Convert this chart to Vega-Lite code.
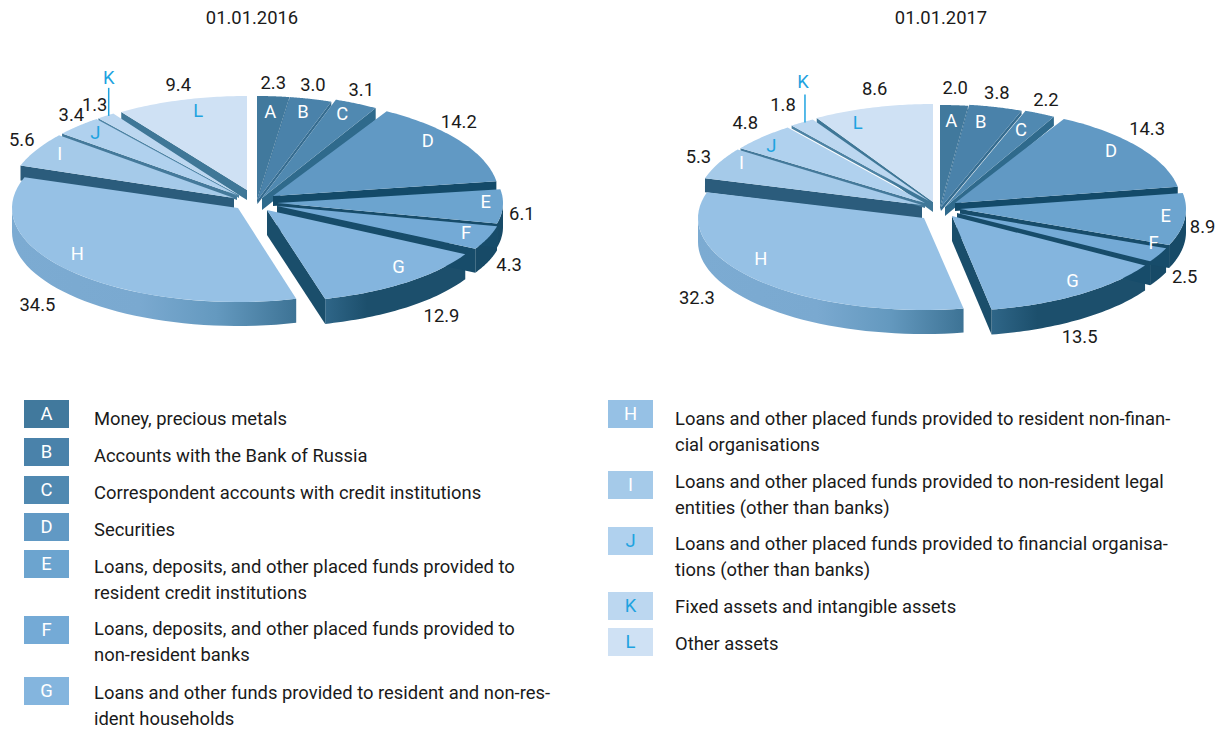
{
  "$schema": "https://vega.github.io/schema/vega-lite/v6.json",
  "autosize": {"type": "fit", "contains": "padding"},
  "width": 1227,
  "height": 729,
  "padding": 0,
  "background": "#ffffff",
  "config": {"view": {"stroke": null}, "text": {"font": "Roboto", "fontSize": 18.4, "color": "#1a1a1a"}},
  "datasets": {
    "slices": [
      {"chart": "2016", "key": "A", "value": 2.3}, {"chart": "2016", "key": "B", "value": 3.0}, {"chart": "2016", "key": "C", "value": 3.1},
      {"chart": "2016", "key": "D", "value": 14.2}, {"chart": "2016", "key": "E", "value": 6.1}, {"chart": "2016", "key": "F", "value": 4.3},
      {"chart": "2016", "key": "G", "value": 12.9}, {"chart": "2016", "key": "H", "value": 34.5}, {"chart": "2016", "key": "I", "value": 5.6},
      {"chart": "2016", "key": "J", "value": 3.4}, {"chart": "2016", "key": "K", "value": 1.3}, {"chart": "2016", "key": "L", "value": 9.4},
      {"chart": "2017", "key": "A", "value": 2.0}, {"chart": "2017", "key": "B", "value": 3.8}, {"chart": "2017", "key": "C", "value": 2.2},
      {"chart": "2017", "key": "D", "value": 14.3}, {"chart": "2017", "key": "E", "value": 8.9}, {"chart": "2017", "key": "F", "value": 2.5},
      {"chart": "2017", "key": "G", "value": 13.5}, {"chart": "2017", "key": "H", "value": 32.3}, {"chart": "2017", "key": "I", "value": 5.3},
      {"chart": "2017", "key": "J", "value": 4.8}, {"chart": "2017", "key": "K", "value": 1.8}, {"chart": "2017", "key": "L", "value": 8.6}
    ],
    "headings": [
      {"chart": "2016", "heading": "01.01.2016"},
      {"chart": "2017", "heading": "01.01.2017"}
    ],
    "categories": [
      {"key": "A", "label": "Money, precious metals"},
      {"key": "B", "label": "Accounts with the Bank of Russia"},
      {"key": "C", "label": "Correspondent accounts with credit institutions"},
      {"key": "D", "label": "Securities"},
      {"key": "E", "label": "Loans, deposits, and other placed funds provided to\nresident credit institutions"},
      {"key": "F", "label": "Loans, deposits, and other placed funds provided to\nnon-resident banks"},
      {"key": "G", "label": "Loans and other funds provided to resident and non-res-\nident households"},
      {"key": "H", "label": "Loans and other placed funds provided to resident non-finan-\ncial organisations"},
      {"key": "I", "label": "Loans and other placed funds provided to non-resident legal\nentities (other than banks)"},
      {"key": "J", "label": "Loans and other placed funds provided to financial organisa-\ntions (other than banks)"},
      {"key": "K", "label": "Fixed assets and intangible assets"},
      {"key": "L", "label": "Other assets"}
    ]
  },
  "data": {"name": "slices"},
  "transform": [
    {"window": [{"op": "sum", "field": "value", "as": "cum"}], "groupby": ["chart"], "sort": [{"field": "key"}]},
    {"joinaggregate": [{"op": "sum", "field": "value", "as": "total"}], "groupby": ["chart"]},
    {"calculate": "datum.cum / datum.total * 2 * PI", "as": "a1"},
    {"calculate": "(datum.cum - datum.value) / datum.total * 2 * PI", "as": "a0"},
    {"calculate": "(datum.a0 + datum.a1) / 2", "as": "mid"},
    {"calculate": "{'2016':{A:[257,200,104,4],B:[257.5,200,104,4],C:[262,198,104,12],D:[273,196,98,10],E:[277,203,90,24],F:[277,206,89,24],G:[267,210,92,25],H:[238,208,94,24],I:[234,198,99,15],J:[237,195,97,5],K:[239,195,98,3],L:[247,190,94,10]},'2017':{A:[940,207,102,4],B:[941,207,103,4],C:[945,207,103,9],D:[955,203,96,8],E:[960,209,95,23],F:[957,213,93,24],G:[952,216,95,25],H:[924,218,92,24],I:[922,205,96,14],J:[925,203,95,5],K:[929,201,95,3],L:[933,202,98,10]}}[datum.chart][datum.key]", "as": "geo"},
    {"calculate": "datum.geo[0]", "as": "cx"},
    {"calculate": "datum.geo[1]", "as": "cy"},
    {"calculate": "datum.geo[2]", "as": "ry"},
    {"calculate": "datum.geo[3]", "as": "depth"},
    {"calculate": "datum.cx + 226 * sin(datum.mid)", "as": "rimX"},
    {"calculate": "datum.cy - datum.ry * cos(datum.mid)", "as": "rimY"}
  ],
  "encoding": {
    "x": {"field": "px", "type": "quantitative", "axis": null, "scale": {"domain": [0, 1227], "nice": false, "zero": false}},
    "y": {"field": "py", "type": "quantitative", "axis": null, "scale": {"domain": [729, 0], "nice": false, "zero": false}}
  },
  "layer": [
    {
      "transform": [
        {"filter": "datum.a1 > PI / 2 && datum.a0 < 3 * PI / 2"},
        {"calculate": "max(datum.a0, PI / 2)", "as": "b0"},
        {"calculate": "min(datum.a1, 3 * PI / 2)", "as": "b1"},
        {"calculate": "sequence(0, 82)", "as": "steps"},
        {"flatten": ["steps"], "as": ["i"]},
        {"calculate": "datum.i <= 40 ? datum.i : 81 - datum.i", "as": "j"},
        {"calculate": "datum.b0 + (datum.b1 - datum.b0) * datum.j / 40", "as": "t"},
        {"calculate": "datum.cx + 226 * sin(datum.t)", "as": "px"},
        {"calculate": "datum.cy - datum.ry * cos(datum.t) + (datum.i <= 40 ? 0 : datum.depth)", "as": "py"}
      ],
      "encoding": {
        "detail": [{"field": "chart"}, {"field": "key"}],
        "order": {"field": "i", "type": "quantitative"}
      },
      "layer": [
        {
          "transform": [{"filter": "datum.key == 'E' || datum.key == 'F'"}],
          "mark": {"type": "line", "fill": "#174a67", "stroke": "transparent", "strokeWidth": 0}
        },
        {
          "transform": [{"filter": "datum.key == 'G'"}],
          "mark": {"type": "line", "stroke": "transparent", "strokeWidth": 0, "fill": {"gradient": "linear", "x1": 0, "y1": 0, "x2": 1, "y2": 0, "stops": [{"offset": 0, "color": "#2f6688"}, {"offset": 0.3, "color": "#1c4f6c"}, {"offset": 1, "color": "#1c4f6c"}]}}
        },
        {
          "transform": [{"filter": "datum.key == 'H'"}],
          "mark": {"type": "line", "stroke": "transparent", "strokeWidth": 0, "fill": {"gradient": "linear", "x1": 0, "y1": 0, "x2": 1, "y2": 0, "stops": [{"offset": 0, "color": "#7cabd2"}, {"offset": 0.45, "color": "#7aa9d0"}, {"offset": 0.72, "color": "#6499bf"}, {"offset": 1, "color": "#3d7395"}]}}
        }
      ]
    },
    {
      "transform": [
        {"filter": "datum.a1 <= PI || datum.a0 >= PI"},
        {"calculate": "datum.a1 <= PI ? datum.a1 : datum.a0", "as": "edge"},
        {"calculate": "sequence(0, 4)", "as": "steps"},
        {"flatten": ["steps"], "as": ["i"]},
        {"calculate": "datum.i == 1 || datum.i == 2 ? datum.cx + 226 * sin(datum.edge) : datum.cx", "as": "px"},
        {"calculate": "(datum.i == 1 || datum.i == 2 ? datum.cy - datum.ry * cos(datum.edge) : datum.cy) + (datum.i >= 2 ? datum.depth : 0)", "as": "py"}
      ],
      "mark": {"type": "line", "strokeWidth": 0, "stroke": "transparent"},
      "encoding": {
        "detail": [{"field": "chart"}, {"field": "key"}],
        "order": {"field": "i", "type": "quantitative"},
        "fill": {
          "field": "key", "type": "nominal", "legend": null,
          "scale": {
            "domain": ["A", "B", "C", "D", "E", "F", "G", "I", "J", "K", "L"],
            "range": ["#356c90", "#356c90", "#2f6a8c", "#134a69", "#174c6a", "#174c6a", "#1a4e6b", "#2b5c7c", "#44799a", "#4d83a4", "#3f7797"]
          }
        }
      }
    },
    {
      "transform": [
        {"calculate": "sequence(0, 42)", "as": "steps"},
        {"flatten": ["steps"], "as": ["i"]},
        {"calculate": "datum.a0 + (datum.a1 - datum.a0) * (datum.i - 1) / 40", "as": "t"},
        {"calculate": "datum.i == 0 ? datum.cx : datum.cx + 226 * sin(datum.t)", "as": "px"},
        {"calculate": "datum.i == 0 ? datum.cy : datum.cy - datum.ry * cos(datum.t)", "as": "py"}
      ],
      "mark": {"type": "line", "strokeWidth": 0, "stroke": "transparent"},
      "encoding": {
        "detail": [{"field": "chart"}, {"field": "key"}],
        "order": {"field": "i", "type": "quantitative"},
        "fill": {
          "field": "key", "type": "nominal", "legend": null,
          "scale": {
            "domain": ["A", "B", "C", "D", "E", "F", "G", "H", "I", "J", "K", "L"],
            "range": ["#41799d", "#4a82aa", "#5089b1", "#6199c4", "#6ca4cf", "#74aad6", "#84b5de", "#96c1e5", "#a5cae9", "#b0d1ee", "#bcd7f0", "#cfe1f4"]
          }
        }
      }
    },
    {
      "transform": [
        {"calculate": "{'2016':{A:[0,-13],B:[2,-14],C:[5,-13],D:[-1,-19],E:[19,7],F:[21,27],G:[35,34],H:[-35,33],I:[-15,-10],J:[-7,-11],K:[-11,-11],L:[-3,-15]},'2017':{A:[1,-17],B:[1,-14],C:[6,-14],D:[8,-18],E:[18,8],F:[26,22],G:[0,43],H:[-59,19],I:[-20,-6],J:[-17,-14],K:[-19,-17],L:[2,-19]}}[datum.chart][datum.key]", "as": "off"},
        {"calculate": "datum.rimX + datum.off[0]", "as": "px"},
        {"calculate": "datum.rimY + datum.off[1]", "as": "py"}
      ],
      "mark": {"type": "text", "align": "center", "baseline": "middle"},
      "encoding": {"text": {"field": "value", "type": "quantitative", "format": ".1f"}}
    },
    {
      "transform": [
        {"calculate": "{'2016':{A:[-3,16],B:[-8,13],C:[-14,11],D:[-32,0],E:[-17,-5],F:[-22,-5],G:[-8,-15],H:[5,-18],I:[23,4],J:[17,7],K:[3,-38],L:[17,11]},'2017':{A:[-3,16],B:[-15,15],C:[-19,16],D:[-28,4],E:[-19,-3],F:[-5,-12],G:[-7,-13],H:[5,-20],I:[23,0],J:[9,9],K:[1,-40],L:[-15,15]}}[datum.chart][datum.key]", "as": "off"},
        {"calculate": "datum.rimX + datum.off[0]", "as": "px"},
        {"calculate": "datum.rimY + datum.off[1]", "as": "py"}
      ],
      "mark": {"type": "text", "align": "center", "baseline": "middle"},
      "encoding": {
        "text": {"field": "key"},
        "color": {"condition": {"test": "datum.key == 'J' || datum.key == 'K' || datum.key == 'L'", "value": "#1fa3e0"}, "value": "#ffffff"}
      }
    },
    {
      "transform": [
        {"filter": "datum.key == 'K'"},
        {"calculate": "datum.rimX + 3", "as": "px"},
        {"calculate": "datum.rimY - 28", "as": "py"},
        {"calculate": "datum.rimY", "as": "py2"}
      ],
      "mark": {"type": "rule", "color": "#1fa3e0", "strokeWidth": 1.5},
      "encoding": {"y2": {"field": "py2"}}
    },
    {
      "data": {"name": "headings"},
      "transform": [
        {"calculate": "datum.chart == '2016' ? 252 : 941", "as": "px"},
        {"calculate": "18", "as": "py"}
      ],
      "mark": {"type": "text", "align": "center", "baseline": "middle"},
      "encoding": {"text": {"field": "heading"}}
    },
    {
      "data": {"name": "categories"},
      "transform": [
        {"calculate": "{A:400,B:438,C:476,D:513,E:550,F:616,G:677,H:400,I:471,J:527,K:592,L:628}[datum.key]", "as": "swatchTop"},
        {"calculate": "{A:418,B:455,C:492,D:529,E:566,F:628,G:692,H:418,I:481,J:543,K:606,L:643}[datum.key]", "as": "labelMid"},
        {"calculate": "datum.key < 'H' ? 24 : 608", "as": "swatchLeft"},
        {"calculate": "datum.swatchLeft + 22.5", "as": "swatchMid"}
      ],
      "layer": [
        {
          "transform": [
            {"calculate": "datum.swatchLeft", "as": "px"},
            {"calculate": "datum.swatchLeft + 45", "as": "px2"},
            {"calculate": "datum.swatchTop", "as": "py"},
            {"calculate": "datum.swatchTop + 28", "as": "py2"}
          ],
          "mark": {"type": "rect"},
          "encoding": {
            "x2": {"field": "px2"},
            "y2": {"field": "py2"},
            "fill": {
              "field": "key", "type": "nominal", "legend": null,
              "scale": {
                "domain": ["A", "B", "C", "D", "E", "F", "G", "H", "I", "J", "K", "L"],
                "range": ["#41799d", "#4a82aa", "#5089b1", "#6199c4", "#6ca4cf", "#74aad6", "#84b5de", "#96c1e5", "#a5cae9", "#b0d1ee", "#bcd7f0", "#cfe1f4"]
              }
            }
          }
        },
        {
          "transform": [
            {"calculate": "datum.swatchMid", "as": "px"},
            {"calculate": "datum.swatchTop + 14", "as": "py"}
          ],
          "mark": {"type": "text", "align": "center", "baseline": "middle"},
          "encoding": {
            "text": {"field": "key"},
            "color": {"condition": {"test": "datum.key == 'J' || datum.key == 'K' || datum.key == 'L'", "value": "#1fa3e0"}, "value": "#ffffff"}
          }
        },
        {
          "transform": [
            {"calculate": "datum.swatchLeft + 70 - (datum.key < 'H' ? 0 : 3)", "as": "px"},
            {"calculate": "datum.labelMid - 8", "as": "py"}
          ],
          "mark": {"type": "text", "align": "left", "baseline": "top", "lineBreak": "\n", "lineHeight": 26},
          "encoding": {"text": {"field": "label"}}
        }
      ]
    }
  ],
  "resolve": {"scale": {"fill": "independent"}}
}
